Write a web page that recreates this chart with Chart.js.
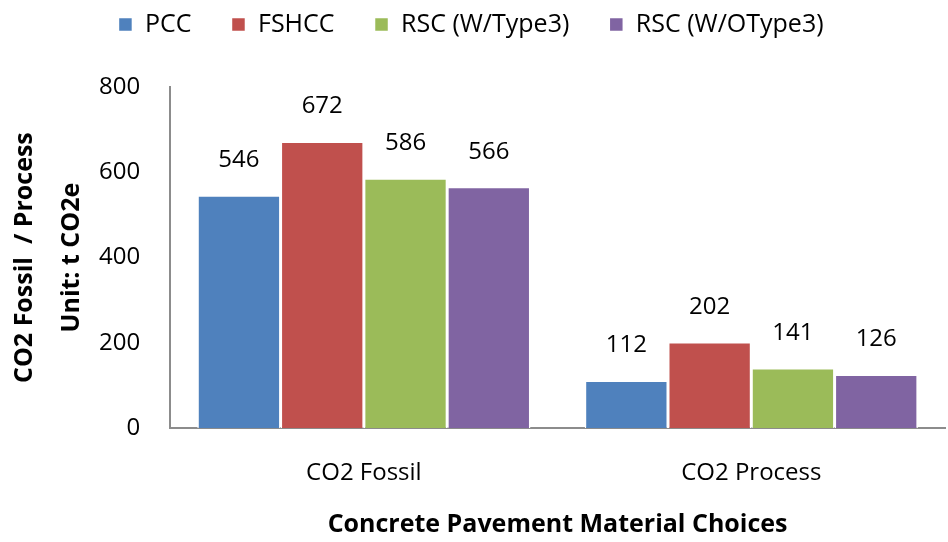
<!DOCTYPE html>
<html>
<head>
<meta charset="utf-8">
<script src="https://cdn.jsdelivr.net/npm/chart.js@4.4.0/dist/chart.umd.min.js"></script>
<style>
  html, body { margin: 0; padding: 0; background: #fff; }
  #wrap { width: 948px; height: 542px; }
</style>
</head>
<body>
<div id="wrap"><canvas id="chart" width="948" height="542"></canvas></div>
<script>
const categories = ['CO2 Fossil', 'CO2 Process'];
const seriesNames = ['PCC', 'FSHCC', 'RSC (W/Type3)', 'RSC (W/OType3)'];
const pcc = [546, 112];
const fshcc = [672, 202];
const rscW = [586, 141];
const rscWO = [566, 126];
const yTicks = [0, 200, 400, 600, 800];

const colors = ['#4f81bd', '#c0504d', '#9bbb59', '#8064a2'];
const font = "'Open Sans', 'Noto Sans', sans-serif";

// value labels above each bar
const barLabels = {
    id: 'barLabels',
    afterDatasetsDraw(chart) {
        const ctx = chart.ctx;
        ctx.save();
        ctx.font = '24px ' + font;
        ctx.fillStyle = '#000';
        ctx.textAlign = 'center';
        ctx.textBaseline = 'middle';
        chart.data.datasets.forEach((ds, i) => {
            chart.getDatasetMeta(i).data.forEach((bar, j) => {
                ctx.fillText(ds.data[j], bar.x, bar.y - 35);
            });
        });
        ctx.restore();
    }
};

// more room under the legend
const legendGap = {
    id: 'legendGap',
    afterInit(chart) {
        const fit = chart.legend.fit;
        chart.legend.fit = function () {
            fit.call(this);
            this.height += 40;
        };
    }
};

const chart = document.querySelector('#chart').getContext('2d');

new Chart(chart, {
    type: 'bar',
    data: {
        labels: categories,
        datasets: [
            { label: seriesNames[0], data: pcc, backgroundColor: colors[0] },
            { label: seriesNames[1], data: fshcc, backgroundColor: colors[1] },
            { label: seriesNames[2], data: rscW, backgroundColor: colors[2] },
            { label: seriesNames[3], data: rscWO, backgroundColor: colors[3] }
        ].map(d => Object.assign(d, { borderColor: '#fff', borderWidth: 1.5, categoryPercentage: 0.86, barPercentage: 1 }))
    },
    options: {
        responsive: false,
        animation: false,
        layout: { padding: { top: -28, right: 3, left: -3, bottom: -2 } },
        plugins: {
            legend: {
                position: 'top',
                labels: {
                    boxWidth: 14,
                    boxHeight: 14,
                    padding: 40,
                    color: '#000',
                    font: { size: 25, family: font }
                }
            },
            tooltip: { enabled: false }
        },
        scales: {
            x: {
                grid: { display: false, drawTicks: false },
                border: { display: true, color: '#8c8c8c', width: 2 },
                ticks: { color: '#000', padding: 31, font: { size: 24, family: font } },
                title: {
                    display: true,
                    text: 'Concrete Pavement Material Choices',
                    color: '#000',
                    padding: { top: -9 },
                    font: { size: 25, weight: 'bold', family: font }
                }
            },
            y: {
                min: 0,
                max: 800,
                afterBuildTicks: axis => { axis.ticks = yTicks.map(v => ({ value: v })); },
                grid: { display: false, drawTicks: false },
                border: { display: true, color: '#8c8c8c', width: 2 },
                ticks: { color: '#000', padding: 30, font: { size: 24, family: font } },
                title: {
                    display: true,
                    text: ['CO2 Fossil  / Process', 'Unit: t CO2e'],
                    color: '#000',
                    padding: { bottom: -26 },
                    font: { size: 25, weight: 'bold', family: font, lineHeight: 1.88 }
                }
            }
        }
    },
    plugins: [barLabels, legendGap]
});
</script>
</body>
</html>
